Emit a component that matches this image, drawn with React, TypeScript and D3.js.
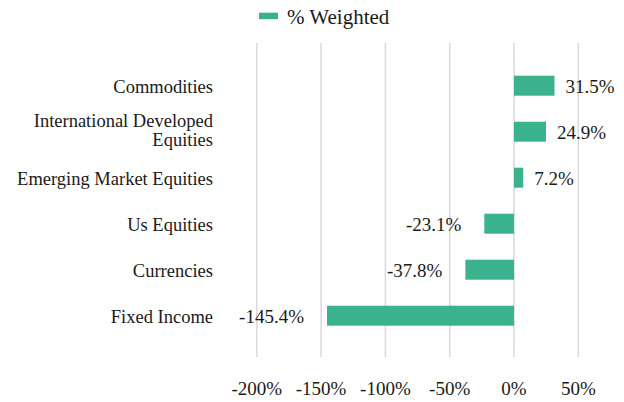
import React, { useEffect } from "react";
import * as d3 from "d3";

const categories = [
  "Commodities",
  "International Developed Equities",
  "Emerging Market Equities",
  "Us Equities",
  "Currencies",
  "Fixed Income",
];
const values = [31.5, 24.9, 7.2, -23.1, -37.8, -145.4];
const ticks = [-200, -150, -100, -50, 0, 50];
const seriesName = "% Weighted";

const W = 624;
const H = 402;
const COLOR = "#3bb28e";
const TS: React.CSSProperties = {
  fontFamily: "'Liberation Serif'",
  fill: "#1a1a1a",
};

export default function App() {
  useEffect(() => {
    document.body.style.margin = "0";
  }, []);

  const x = d3.scaleLinear().domain([-200, 50]).range([256.8, 578.3]);
  const y = d3
    .scaleBand()
    .domain(categories)
    .range([62.7, 338.7])
    .paddingInner(0.565)
    .paddingOuter(0.2825);
  const gridTop = 43;
  const gridBottom = 357;
  const barH = 20;

  const wrap = (c: string) =>
    c === "International Developed Equities" ? ["International Developed", "Equities"] : [c];

  return (
    <svg width={W} height={H}>
      <rect width={W} height={H} fill="#fff" />
      {/* legend */}
      <rect x={259} y={12.7} width={19} height={6.5} fill={COLOR} />
      <text x={287} y={24} fontSize={21} style={TS}>
        {seriesName}
      </text>
      {/* gridlines */}
      {ticks.map((t) => (
        <line
          key={t}
          x1={x(t)}
          x2={x(t)}
          y1={gridTop}
          y2={gridBottom}
          stroke="#d9d9d9"
          strokeWidth={1.5}
        />
      ))}
      {/* tick labels */}
      {ticks.map((t) => (
        <text key={"l" + t} x={x(t)} y={395} fontSize={19} textAnchor="middle" style={TS}>
          {t + "%"}
        </text>
      ))}
      {/* bars */}
      {categories.map((c, i) => {
        const v = values[i];
        const cy = (y(c) as number) + y.bandwidth() / 2;
        const x0 = x(Math.min(0, v));
        const x1 = x(Math.max(0, v));
        const lines = wrap(c);
        return (
          <g key={c}>
            <rect x={x0} y={cy - barH / 2} width={x1 - x0} height={barH} fill={COLOR} />
            <text
              x={v >= 0 ? x1 + 11 : x0 - 23}
              y={cy + 7}
              fontSize={19}
              textAnchor={v >= 0 ? "start" : "end"}
              style={TS}
            >
              {v.toFixed(1) + "%"}
            </text>
            {lines.map((ln, j) => (
              <text
                key={j}
                x={213}
                y={lines.length > 1 ? cy - 5 + j * 19 : cy + 7}
                fontSize={18.5}
                textAnchor="end"
                style={TS}
              >
                {ln}
              </text>
            ))}
          </g>
        );
      })}
    </svg>
  );
}
